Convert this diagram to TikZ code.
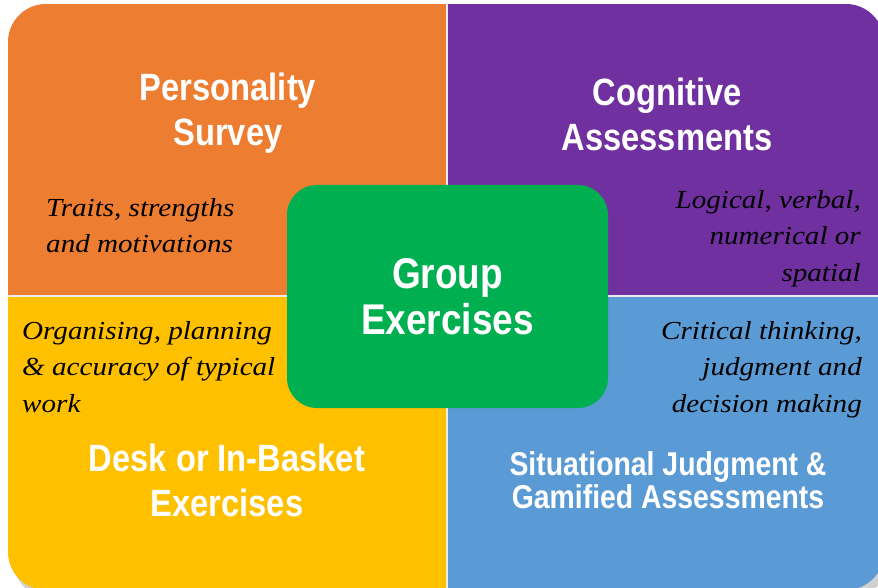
\documentclass[tikz,border=0pt]{standalone}
\usepackage{fontspec}
\usepackage{tikz}
\usetikzlibrary{positioning}
\newfontfamily\headfont[FakeStretch=0.86]{Liberation Sans}
\newfontfamily\notefont[FakeStretch=1.12]{Liberation Serif}
\definecolor{qorange}{HTML}{ED7D31}
\definecolor{qpurple}{HTML}{7030A0}
\definecolor{qyellow}{HTML}{FFC000}
\definecolor{qblue}{HTML}{5B9BD5}
\definecolor{qgreen}{HTML}{00B050}

\begin{document}
\begin{tikzpicture}[x=1pt,y=-1pt,
    head/.style={text=white,align=center,font=\headfont\bfseries\fontsize{38}{45}\selectfont},
    bighead/.style={head,font=\headfont\bfseries\fontsize{43}{46}\selectfont},
    smallhead/.style={head,font=\headfont\bfseries\fontsize{33}{33}\selectfont},
    note/.style={text=black,font=\notefont\itshape\fontsize{26}{36.5}\selectfont,inner sep=0pt}]

  \useasboundingbox (0,0) rectangle (878,588);

  % shadow and quadrants
  \fill[black!18,rounded corners=38] (13,12) rectangle (888,598);
  \begin{scope}
    \clip[rounded corners=38] (8,4) rectangle (884,590);
    \fill[qorange] (8,4) rectangle (447,296);
    \fill[qpurple] (447,4) rectangle (884,296);
    \fill[qyellow] (8,296) rectangle (447,590);
    \fill[qblue] (447,296) rectangle (884,590);
    \draw[white!85!gray,line width=2] (447,4) -- (447,590);
    \draw[white!85!gray,line width=2] (8,296) -- (884,296);
  \end{scope}

  % centre box
  \node[fill=qgreen,rounded corners=30,minimum width=321,minimum height=223,
        bighead] (group) at (447.5,296.5) {Group\\Exercises};

  % titles
  \node[head] (pers) at (228,113) {Personality\\Survey};
  \node[head] (cogn) at (667,114) {Cognitive\\Assessments};
  \node[head] (desk) at (227,480) {Desk or In-Basket\\Exercises};
  \node[smallhead] (sjt) at (668,480) {Situational Judgment \&\\Gamified Assessments};

  % descriptions
  \node[note,align=left,anchor=north west] (traits) at (46,198) {Traits, strengths\\and motivations};
  \node[note,align=right,anchor=north east] (logic) at (861,190) {Logical, verbal,\\numerical or\\spatial};
  \node[note,align=left,anchor=north west] (organ) at (22,321) {Organising, planning\\\& accuracy of typical\\work};
  \node[note,align=right,anchor=north east] (crit) at (862,321) {Critical thinking,\\judgment and\\decision making};

\end{tikzpicture}
\end{document}
